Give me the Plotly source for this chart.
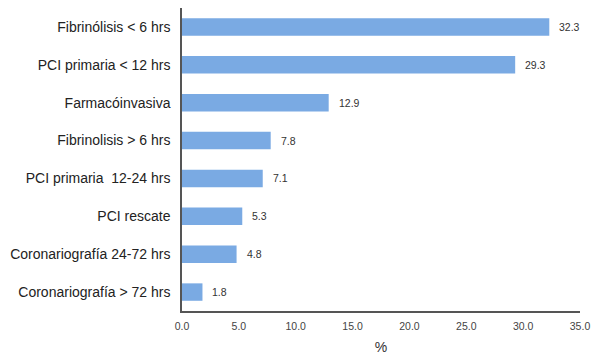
import plotly.graph_objects as go

categories = [
    "Fibrinólisis < 6 hrs",
    "PCI primaria < 12 hrs",
    "Farmacóinvasiva",
    "Fibrinolisis > 6 hrs",
    "PCI primaria  12-24 hrs",
    "PCI rescate",
    "Coronariografía 24-72 hrs",
    "Coronariografía > 72 hrs",
]
values = [32.3, 29.3, 12.9, 7.8, 7.1, 5.3, 4.8, 1.8]
x_ticks = [0, 5, 10, 15, 20, 25, 30, 35]
x_tick_labels = ["0.0", "5.0", "10.0", "15.0", "20.0", "25.0", "30.0", "35.0"]

FONT = "Liberation Sans, Arial, sans-serif"

fig = go.Figure()
fig.add_trace(go.Bar(
    x=values,
    y=categories,
    orientation="h",
    width=0.46,
    marker=dict(color="#7aaae3", line=dict(width=0)),
    hoverinfo="skip",
))

for c, v in zip(categories, values):
    fig.add_annotation(
        x=v, y=c, text=f"{v:.1f}", showarrow=False,
        xanchor="left", xshift=8,
        font=dict(family=FONT, size=10.5, color="#333333"),
    )

# page body has an 8px default margin, so the figure is sized to fit the window
fig.update_layout(
    width=604, height=354,
    margin=dict(l=174, r=32, t=0, b=51),
    paper_bgcolor="white", plot_bgcolor="white",
    showlegend=False,
    font=dict(family=FONT),
    xaxis=dict(
        range=[0, 35], automargin=False,
        tickvals=x_ticks, ticktext=x_tick_labels,
        showgrid=False, zeroline=False,
        showline=True, linecolor="#555555", linewidth=1.5,
        ticks="outside", ticklen=5, tickcolor="white",
        tickfont=dict(family=FONT, size=10.5, color="#444444"),
        title=dict(text="%", font=dict(family=FONT, size=14, color="#333333"), standoff=11),
    ),
    yaxis=dict(
        autorange="reversed", automargin=False,
        showgrid=False, zeroline=False,
        showline=True, linecolor="#555555", linewidth=1.5,
        ticks="outside", ticklen=7, tickcolor="white",
        tickfont=dict(family=FONT, size=14, color="#222222"),
    ),
)

fig.write_html("out.html")
